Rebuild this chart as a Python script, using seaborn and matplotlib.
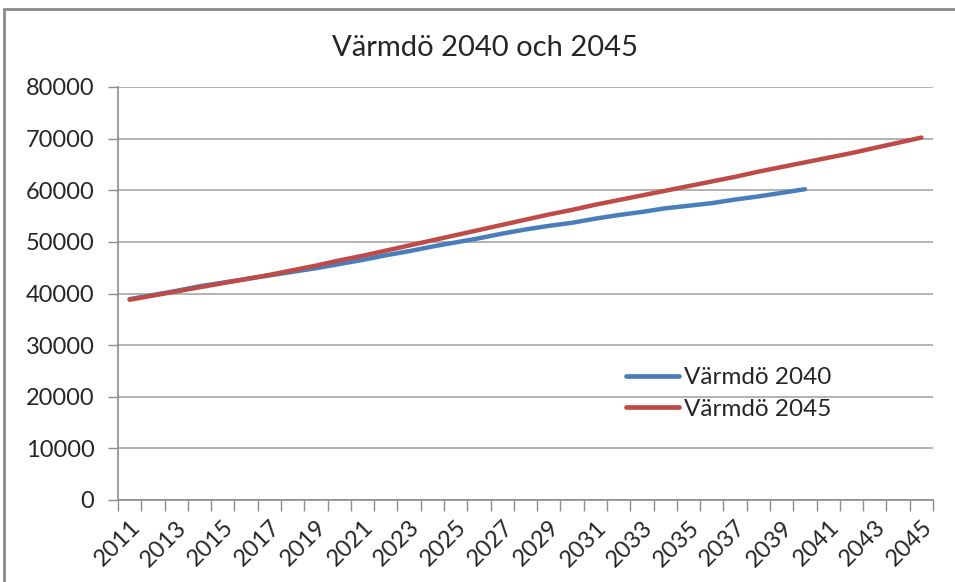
import matplotlib
matplotlib.use("Agg")
import matplotlib.pyplot as plt
import numpy as np
import pandas as pd
import seaborn as sns
from matplotlib.patches import Rectangle

years = list(range(2011, 2046))

varmdo_2040 = [38900, 39700, 40500, 41400, 42100, 42800, 43500, 44200, 44900, 45700,
               46500, 47400, 48200, 49100, 49900, 50700, 51600, 52400, 53100, 53700,
               54500, 55200, 55800, 56500, 57000, 57500, 58200, 58800, 59500, 60200]

varmdo_2045 = [38800, 39600, 40400, 41200, 42000, 42800, 43600, 44500, 45400, 46400,
               47300, 48300, 49300, 50300, 51300, 52300, 53300, 54300, 55300, 56200,
               57200, 58100, 59000, 59900, 60800, 61700, 62600, 63600, 64500, 65400,
               66300, 67200, 68200, 69200, 70200]

series_names = ["Värmdö 2040", "Värmdö 2045"]
series_colors = ["#4a7ebb", "#be4b48"]
title_text = "Värmdö 2040 och 2045"
y_ticks = list(range(0, 80001, 10000))
x_label_years = years[::2]

df = pd.concat([
    pd.DataFrame({"År": years[:len(varmdo_2040)], "Invånare": varmdo_2040, "Serie": series_names[0]}),
    pd.DataFrame({"År": years, "Invånare": varmdo_2045, "Serie": series_names[1]}),
], ignore_index=True)

sns.set_theme(style="white")
plt.rcParams["font.family"] = ["Lato", "DejaVu Sans"]

fig = plt.figure(figsize=(9.55, 5.82), dpi=100)
ax = fig.add_axes([118 / 955, 1 - 500 / 582, (933 - 118) / 955, (500 - 87) / 582])

sns.lineplot(data=df, x="År", y="Invånare", hue="Serie", palette=series_colors,
             linewidth=3.2, ax=ax, legend=True)
for ln in ax.get_lines():
    ln.set_solid_capstyle("round")
    ln.set_solid_joinstyle("round")

ax.set_xlim(years[0] - 0.5, years[-1] + 0.5)
ax.set_ylim(y_ticks[0], y_ticks[-1])
ax.set_yticks(y_ticks)
ax.set_yticklabels([str(v) for v in y_ticks], fontsize=17)
ax.set_xticks(x_label_years)
ax.set_xticklabels([str(y) for y in x_label_years], rotation=45, ha="right",
                   rotation_mode="anchor", fontsize=17)
ax.set_xticks(np.arange(years[0] - 0.5, years[-1] + 1.0, 1.0), minor=True)
ax.tick_params(axis="x", which="major", length=0, pad=12)
ax.tick_params(axis="x", which="minor", length=8, width=1, color="#8c8c8c", direction="out", bottom=True)
ax.tick_params(axis="y", which="major", length=7, width=1, color="#8c8c8c", direction="out", left=True, pad=10)
ax.set_xlabel("")
ax.set_ylabel("")

ax.grid(axis="y", color="#a6a6a6", linewidth=1.2)
ax.set_axisbelow(True)
for side in ["top", "right"]:
    ax.spines[side].set_visible(False)
for side in ["left", "bottom"]:
    ax.spines[side].set_color("#8c8c8c")
    ax.spines[side].set_linewidth(1.2)

leg = ax.legend(loc="upper left", bbox_to_anchor=(626 / 955, 1 - 367 / 582),
                bbox_transform=fig.transFigure, frameon=False, fontsize=17.5,
                handlelength=2.2, handletextpad=0.2, labelspacing=0.45,
                borderaxespad=0, borderpad=0)
for h in leg.get_lines():
    h.set_linewidth(3.4)
    h.set_solid_capstyle("round")

fig.text(485 / 955, 1 - 48 / 582, title_text, ha="center", va="center", fontsize=21)

fig.add_artist(Rectangle((4 / 955, -0.1), 1.2, 1 - 9 / 582 + 0.1, transform=fig.transFigure,
                         fill=False, edgecolor="#8a8a8a", linewidth=2))

fig.savefig("out.png", dpi=100, facecolor="white")
